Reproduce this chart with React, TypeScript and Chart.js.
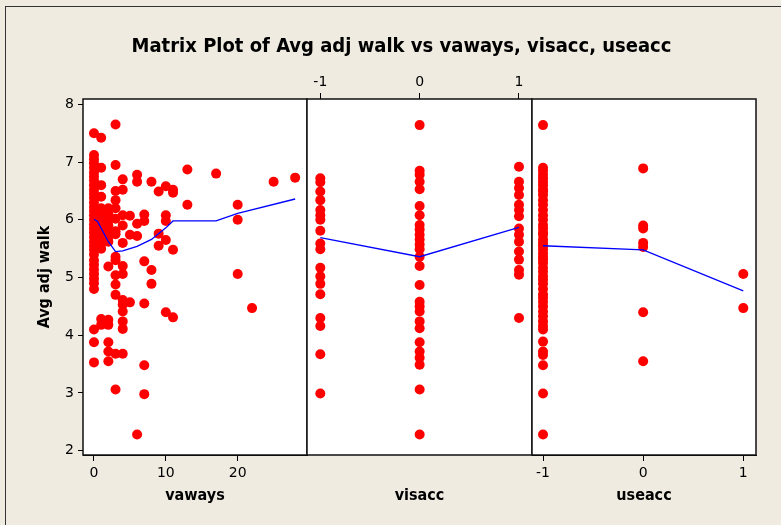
import { useEffect, useRef } from "react";
import { Chart, registerables } from "chart.js";

Chart.register(...registerables);

const W = 781;
const H = 525;

const chartTitle = "Matrix Plot of Avg adj walk vs vaways, visacc, useacc";
const yTitle = "Avg adj walk";
const yTicks = [2, 3, 4, 5, 6, 7, 8];
const vawaysTicks = [0, 10, 20];
const visaccTicks = [-1, 0, 1];
const useaccTicks = [-1, 0, 1];

// Panel 1: (vaways, avg adj walk)
const vawaysPoints: [number, number][] = [
  [0, 7.5], [0, 7.12], [0, 7.05], [0, 6.98], [0, 6.9], [0, 6.82], [0, 6.75], [0, 6.68], [0, 6.6],
  [0, 6.52], [0, 6.45], [0, 6.38], [0, 6.3], [0, 6.22], [0, 6.15], [0, 6.08], [0, 6.0], [0, 5.92],
  [0, 5.85], [0, 5.78], [0, 5.7], [0, 5.62], [0, 5.55], [0, 5.48], [0, 5.4], [0, 5.3], [0, 5.22],
  [0, 5.14], [0, 5.06], [0, 4.98], [0, 4.9], [0, 4.8], [0, 4.1], [0, 3.88], [0, 3.53],
  [1, 7.42], [1, 6.9], [1, 6.6], [1, 6.4], [1, 6.2], [1, 6.1], [1, 6.0], [1, 5.9], [1, 5.8],
  [1, 5.7], [1, 5.6], [1, 5.5], [1, 4.28], [1, 4.18],
  [2, 6.2], [2, 6.1], [2, 6.0], [2, 5.9], [2, 5.8], [2, 5.7], [2, 5.62], [2, 5.19], [2, 4.27],
  [2, 4.18], [2, 3.88], [2, 3.72], [2, 3.55],
  [3, 7.65], [3, 6.95], [3, 6.5], [3, 6.34], [3, 6.2], [3, 6.02], [3, 5.8], [3, 5.75], [3, 5.36],
  [3, 5.3], [3, 5.04], [3, 4.88], [3, 4.7], [3, 3.68], [3, 3.06],
  [4, 6.7], [4, 6.52], [4, 6.08], [4, 5.9], [4, 5.6], [4, 5.2], [4, 5.06], [4, 4.61], [4, 4.53],
  [4, 4.41], [4, 4.24], [4, 4.11], [4, 3.68],
  [5, 6.07], [5, 5.74], [5, 4.57],
  [6, 6.78], [6, 6.66], [6, 5.93], [6, 5.72], [6, 2.28],
  [7, 6.09], [7, 5.98], [7, 5.28], [7, 4.55], [7, 3.48], [7, 2.98],
  [8, 6.66], [8, 5.13], [8, 4.89],
  [9, 6.49], [9, 5.76], [9, 5.55],
  [10, 6.58], [10, 6.08], [10, 5.98], [10, 5.65], [10, 4.4],
  [11, 6.52], [11, 6.47], [11, 5.48], [11, 4.31],
  [13, 6.87], [13, 6.26],
  [17, 6.8],
  [20, 6.26], [20, 6.0], [20, 5.06],
  [22, 4.47],
  [25, 6.66],
  [28, 6.73],
];
const vawaysSmooth: [number, number][] = [
  [0, 6.01], [0.5, 5.97], [2, 5.62], [3, 5.45], [4, 5.46], [6, 5.54], [8, 5.66],
  [10, 5.86], [11, 5.98], [17, 5.98], [20, 6.11], [28, 6.36],
];

// Panel 2: avg adj walk grouped by visacc
const visaccNeg = [
  6.72, 6.65, 6.49, 6.34, 6.17, 6.08, 6.0, 5.81, 5.59, 5.49, 5.17, 5.02, 4.89, 4.71, 4.3, 4.16,
  3.67, 2.99,
];
const visaccZero = [
  7.64, 6.85, 6.78, 6.66, 6.53, 6.24, 6.08, 5.91, 5.83, 5.74, 5.66, 5.57, 5.49, 5.36, 5.2, 4.87,
  4.58, 4.5, 4.41, 4.24, 4.12, 3.88, 3.72, 3.61, 3.49, 3.06, 2.28,
];
const visaccPos = [
  6.92, 6.66, 6.55, 6.43, 6.26, 6.17, 6.06, 5.85, 5.74, 5.62, 5.45, 5.31, 5.13, 5.05, 4.3,
];
const visaccSmooth: [number, number][] = [[-1, 5.69], [0, 5.36], [1, 5.87]];

// Panel 3: avg adj walk grouped by useacc
const useaccNeg = [
  7.64, 6.9, 6.85, 6.78, 6.72, 6.66, 6.6, 6.53, 6.49, 6.43, 6.34, 6.26, 6.17, 6.08, 6.0, 5.91,
  5.85, 5.78, 5.74, 5.66, 5.6, 5.55, 5.49, 5.42, 5.36, 5.31, 5.25, 5.17, 5.1, 5.02, 4.96, 4.89,
  4.8, 4.71, 4.65, 4.58, 4.5, 4.41, 4.33, 4.24, 4.16, 4.1, 3.89, 3.72, 3.66, 3.48, 2.99, 2.28,
];
const useaccZero = [6.89, 5.9, 5.85, 5.6, 5.53, 4.4, 3.55];
const useaccPos = [5.06, 4.47];
const useaccSmooth: [number, number][] = [[-1, 5.55], [0, 5.48], [1, 4.77]];

const BG = "rgb(239,235,225)";
const FAMILY = "'DejaVu Sans', sans-serif";
const BOLD_FAMILY = "'DejaVu Sans Condensed', 'DejaVu Sans', sans-serif";
const tickFont = { family: FAMILY, size: 14 };
const axisTitleFont = { family: BOLD_FAMILY, size: 16, weight: "bold" as const };

const Y_MIN = 1.926;
const Y_MAX = 8.092;

const framePlugin = {
  id: "frame",
  beforeDatasetsDraw(chart: any) {
    const { ctx, chartArea: a } = chart;
    ctx.save();
    ctx.fillStyle = "#ffffff";
    ctx.fillRect(a.left, a.top, a.right - a.left, a.bottom - a.top);
    ctx.restore();
  },
  afterDraw(chart: any) {
    const { ctx, chartArea: a } = chart;
    ctx.save();
    ctx.strokeStyle = "#111";
    ctx.lineWidth = 1.5;
    ctx.strokeRect(a.left, a.top, a.right - a.left, a.bottom - a.top);
    ctx.restore();
  },
};

const mainTitlePlugin = {
  id: "mainTitle",
  afterDraw(chart: any) {
    const { ctx } = chart;
    ctx.save();
    ctx.font = `bold 20px ${BOLD_FAMILY}`;
    ctx.fillStyle = "#000";
    ctx.textAlign = "center";
    ctx.textBaseline = "alphabetic";
    ctx.fillText(chartTitle, 401.5, 52);
    ctx.restore();
  },
};

function pts(x: number, ys: number[]) {
  return ys.map((y) => ({ x, y }));
}
function pairs(p: [number, number][]) {
  return p.map(([x, y]) => ({ x, y }));
}

function xAxis(
  position: "top" | "bottom",
  min: number,
  max: number,
  ticks: number[],
  height: number,
  title: string | null,
  showTicks: boolean
) {
  return {
    type: "linear",
    position,
    min,
    max,
    afterBuildTicks: (s: any) => {
      s.ticks = ticks.map((v) => ({ value: v }));
    },
    afterFit: (s: any) => {
      s.height = height;
    },
    ticks: {
      display: showTicks,
      font: tickFont,
      color: "#000",
      padding: position === "top" ? 2 : 4,
      maxRotation: 0,
      autoSkip: false,
    },
    grid: {
      display: showTicks,
      drawOnChartArea: false,
      drawTicks: true,
      tickLength: 6,
      color: "#000",
      tickWidth: 1,
    },
    border: { display: showTicks, color: "#000", width: 1 },
    title: {
      display: !!title,
      text: title || "",
      font: axisTitleFont,
      color: "#000",
      padding: { top: 0, bottom: 20 },
    },
  };
}

function makeConfig(panel: number): any {
  const scatter = (data: any[]) => ({
    data,
    pointRadius: 5,
    pointHoverRadius: 5,
    backgroundColor: "#ff0000",
    borderWidth: 0,
    order: 1,
  });
  const smooth = (data: any[]) => ({
    data,
    showLine: true,
    pointRadius: 0,
    borderColor: "#0000ff",
    borderWidth: 1.3,
    fill: false,
    order: 0,
  });
  const yScale = (display: boolean) => ({
    type: "linear",
    position: "left",
    min: Y_MIN,
    max: Y_MAX,
    display,
    afterBuildTicks: (s: any) => {
      s.ticks = yTicks.map((v) => ({ value: v }));
    },
    afterFit: (s: any) => {
      s.width = display ? 83 : 0;
    },
    ticks: { font: tickFont, color: "#000", padding: 4 },
    grid: { drawOnChartArea: false, drawTicks: true, tickLength: 5, color: "#000" },
    border: { display: true, color: "#000", width: 1 },
    title: {
      display: true,
      text: yTitle,
      font: axisTitleFont,
      color: "#000",
      padding: { top: 35, bottom: 0 },
    },
  });

  let datasets: any[] = [];
  let scales: any = {};
  let padding: any = {};
  if (panel === 1) {
    datasets = [smooth(pairs(vawaysSmooth)), scatter(pairs(vawaysPoints))];
    scales = {
      x: xAxis("bottom", -1.53, 29.65, vawaysTicks, 70, "vaways", true),
      y: yScale(true),
    };
    padding = { left: 0, right: W - 307, top: 99, bottom: 0 };
  } else if (panel === 2) {
    datasets = [
      smooth(pairs(visaccSmooth)),
      scatter([...pts(-1, visaccNeg), ...pts(0, visaccZero), ...pts(1, visaccPos)]),
    ];
    scales = {
      x: xAxis("top", -1.134, 1.131, visaccTicks, 99, null, true),
      xb: xAxis("bottom", -1.134, 1.131, visaccTicks, 70, "visacc", false),
      y: yScale(false),
    };
    padding = { left: 307, right: W - 532, top: 0, bottom: 0 };
  } else {
    datasets = [
      smooth(pairs(useaccSmooth)),
      scatter([...pts(-1, useaccNeg), ...pts(0, useaccZero), ...pts(1, useaccPos)]),
    ];
    scales = {
      x: xAxis("bottom", -1.11, 1.127, useaccTicks, 70, "useacc", true),
      y: yScale(false),
    };
    padding = { left: 532, right: W - 756, top: 99, bottom: 0 };
  }

  return {
    type: "scatter",
    data: { datasets },
    options: {
      animation: false,
      responsive: false,
      events: [],
      layout: { padding },
      plugins: { legend: { display: false }, tooltip: { enabled: false } },
      scales,
    },
    plugins: panel === 1 ? [framePlugin, mainTitlePlugin] : [framePlugin],
  };
}

function Panel({ panel }: { panel: number }) {
  const ref = useRef<HTMLCanvasElement | null>(null);
  useEffect(() => {
    if (!ref.current) return;
    const chart = new Chart(ref.current, makeConfig(panel));
    return () => chart.destroy();
  }, [panel]);
  return (
    <canvas
      ref={ref}
      width={W}
      height={H}
      style={{ position: "absolute", left: 0, top: 0, width: W, height: H }}
    />
  );
}

export default function App() {
  return (
    <div
      style={{
        position: "absolute",
        left: 0,
        top: 0,
        width: W,
        height: H,
        background: BG,
        overflow: "hidden",
      }}
    >
      <div
        style={{
          position: "absolute",
          left: 5,
          top: 6,
          width: W + 20,
          height: H + 20,
          borderTop: "1px solid #333",
          borderLeft: "1px solid #333",
        }}
      />
      <Panel panel={1} />
      <Panel panel={2} />
      <Panel panel={3} />
    </div>
  );
}
